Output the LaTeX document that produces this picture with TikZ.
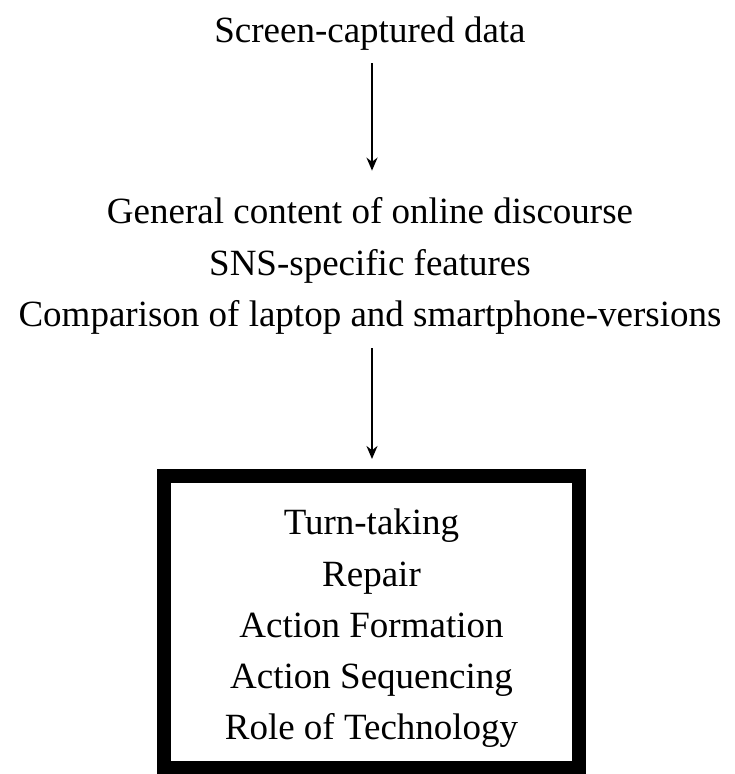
\documentclass[tikz,border=0pt]{standalone}
\usepackage{fontspec}
\setmainfont{Liberation Serif}
\usepackage{tikz}
\usetikzlibrary{arrows.meta}

\begin{document}
\begin{tikzpicture}[
            x = 1pt, y = 1pt, % one unit per pixel of the source
            > = {Stealth[length=13pt, width=11pt]}, % arrow head style
            line width = 2pt,
            every node/.style = {font=\fontsize{37}{44}\selectfont, anchor=base}
        ]
\useasboundingbox (0,0) rectangle (735,-774);

\node (src) at (370,-42) {Screen-captured data};

\node (gen) at (370,-223) {General content of online discourse};
\node (sns) at (370,-275) {SNS-specific features};
\node (cmp) at (370,-326) {Comparison of laptop and smartphone-versions};

\node[shape=rectangle, draw=black, line width=14pt, minimum width=415pt, minimum height=292pt, anchor=center] (box) at (371.5,-622) {};
\node (turn) at (371.5,-534) {Turn-taking};
\node (rep) at (371.5,-586) {Repair};
\node (form) at (371.5,-637) {Action Formation};
\node (seq) at (371.5,-688) {Action Sequencing};
\node (role) at (371.5,-739) {Role of Technology};

 \draw [->, shorten < = 9pt, shorten > = 22pt] (src.south -| 372,0) -- (gen.north -| 372,0);
 \draw [->, shorten < = 10pt, shorten > = 10pt] (cmp.south -| 372,0) -- (box.north -| 372,0);
\end{tikzpicture}
\end{document}
